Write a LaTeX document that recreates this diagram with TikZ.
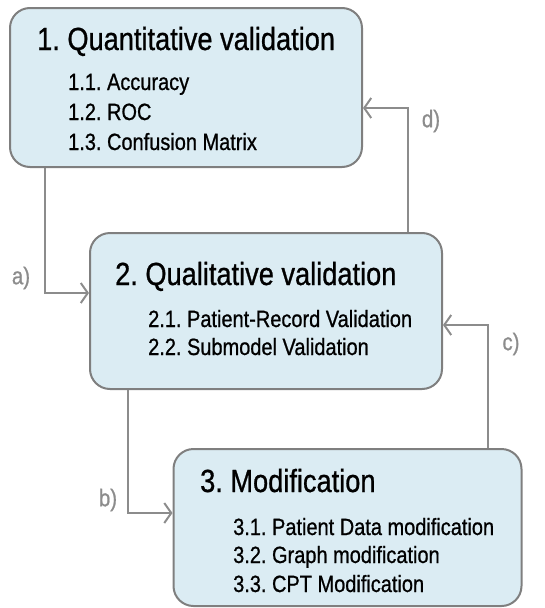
\documentclass[tikz,border=0pt]{standalone}
\usepackage{fontspec}
\setmainfont{Liberation Sans}[FakeStretch=0.85, FakeBold=0.8]
\usetikzlibrary{arrows.meta}
\pgfdeclarelayer{nodelayer}
\pgfdeclarelayer{edgelayer}
\pgfsetlayers{nodelayer,edgelayer,main}
\definecolor{boxfill}{HTML}{DBECF3}
\definecolor{boxline}{HTML}{7F7F7F}
\definecolor{flowgray}{HTML}{8C8C8C}
\frenchspacing
\tikzset{
    none/.style = {inner sep=0pt},
    stage/.style = {draw=boxline, fill=boxfill, line width=2pt, rounded corners=20pt, inner sep=0pt},
    heading/.style = {inner sep=0pt, anchor=base west, font=\fontsize{32}{32}\selectfont},
    item/.style = {inner sep=0pt, anchor=base west, font=\fontsize{23.5}{26}\selectfont},
    flowlabel/.style = {inner sep=0pt, text=flowgray, font=\fontsize{24}{24}\selectfont},
    flow/.style = {draw=flowgray, line width=2pt, -{Straight Barb[length=7pt,width=20pt]}}
}

\begin{document}
\begin{tikzpicture}[x=10pt, y=10pt]
    \useasboundingbox (0, 0) rectangle (54.4, -60.8);
    \begin{pgfonlayer}{nodelayer}
        \node [style=stage, minimum width=352pt, minimum height=159pt] (0) at (18.6, -8.75) {};
        \node [style=stage, minimum width=352pt, minimum height=156pt] (1) at (26.6, -31.1) {};
        \node [style=stage, minimum width=348pt, minimum height=157pt] (2) at (34.75, -52.75) {};
        \node [style=heading] (3) at (3.7, -5) {1. Quantitative validation};
        \node [style=item] (4) at (6.8, -9) {1.1. Accuracy};
        \node [style=item] (5) at (6.8, -12) {1.2. ROC};
        \node [style=item] (6) at (6.8, -15) {1.3. Confusion Matrix};
        \node [style=heading] (7) at (11.5, -28.5) {2. Qualitative validation};
        \node [style=item] (8) at (14.8, -32.7) {2.1. Patient-Record Validation};
        \node [style=item] (9) at (14.8, -35.5) {2.2. Submodel Validation};
        \node [style=heading] (10) at (20, -49.2) {3. Modification};
        \node [style=item] (11) at (23.3, -53.5) {3.1. Patient Data modification};
        \node [style=item] (12) at (23.3, -56.3) {3.2. Graph modification};
        \node [style=item] (13) at (23.3, -59.2) {3.3. CPT Modification};
        \node [style=none] (14) at (4.5, -29.3) {};
        \node [style=none] (15) at (40.8, -10.8) {};
        \node [style=none] (16) at (12.8, -51.3) {};
        \node [style=none] (17) at (48.8, -32.5) {};
        \node [style=flowlabel] (18) at (2.1, -27.8) {a)};
        \node [style=flowlabel] (19) at (10.8, -50) {b)};
        \node [style=flowlabel] (20) at (51.1, -34.4) {c)};
        \node [style=flowlabel] (21) at (43.1, -12.1) {d)};
    \end{pgfonlayer}
    \begin{pgfonlayer}{edgelayer}
        % elbows go through the waypoints
        \draw [style=flow] (0.south -| 14.center) -- (14.center) -- (1.west |- 14.center);
        \draw [style=flow] (1.north -| 15.center) -- (15.center) -- (0.east |- 15.center);
        \draw [style=flow] (1.south -| 16.center) -- (16.center) -- (2.west |- 16.center);
        \draw [style=flow] (2.north -| 17.center) -- (17.center) -- (1.east |- 17.center);
    \end{pgfonlayer}
\end{tikzpicture}
\end{document}
